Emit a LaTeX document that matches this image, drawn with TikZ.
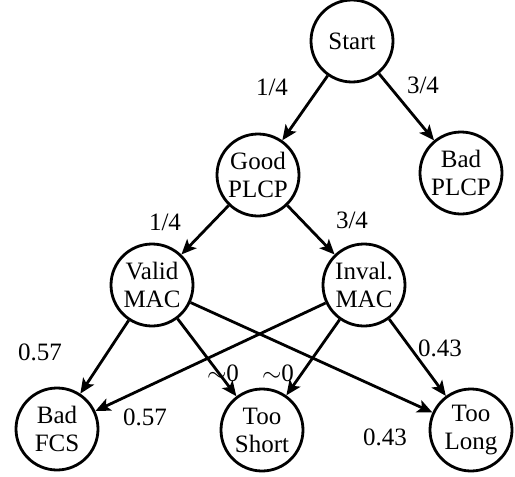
\documentclass[tikz,border=0pt]{standalone}
\usepackage{fontspec}
\setmainfont{Liberation Serif}
\usetikzlibrary{arrows.meta}
\begin{document}
\begin{tikzpicture}[x=1pt,y=-1pt,
  state/.style={circle,draw,line width=2.8pt,minimum size=82pt,inner sep=0pt,
    align=center,font=\fontsize{25}{28}\selectfont},
  prob/.style={font=\fontsize{25}{28}\selectfont,inner sep=0pt},
  trans/.style={line width=2.8pt,-{Stealth[length=15pt,width=13pt,inset=3.5pt]}}]
\useasboundingbox (0,0) rectangle (515,477);
% states
\node[state] (start) at (352,41) {Start};
\node[state] (good) at (258,175) {Good\\PLCP};
\node[state] (badplcp) at (461,173) {Bad\\PLCP};
\node[state] (valid) at (152,285) {Valid\\MAC};
\node[state] (inval) at (364,285) {Inval.\\MAC};
\node[state] (badfcs) at (57,429) {Bad\\FCS};
\node[state] (short) at (262,430) {Too\\Short};
\node[state] (long) at (471,430) {Too\\Long};
% transitions
\draw[trans] (start) -- (good);
\draw[trans] (start) -- (badplcp);
\draw[trans] (good) -- (valid);
\draw[trans] (good) -- (inval);
\draw[trans] (valid) -- (badfcs);
\draw[trans] (valid) -- (short);
\draw[trans] (valid) -- (long);
\draw[trans] (inval) -- (badfcs);
\draw[trans] (inval) -- (short);
\draw[trans] (inval) -- (long);
% probabilities
\node[prob] (p1) at (272,87) {1/4};
\node[prob] (p2) at (423,85) {3/4};
\node[prob] (p3) at (165,222) {1/4};
\node[prob] (p4) at (352,220) {3/4};
\node[prob] (p5) at (40,352) {0.57};
\node[prob] (p6) at (145,417) {0.57};
\node[prob] (p7) at (223,373) {$\sim$0};
\node[prob] (p8) at (278,373) {$\sim$0};
\node[prob] (p9) at (440,348) {0.43};
\node[prob] (p10) at (385,437) {0.43};
\end{tikzpicture}
\end{document}
